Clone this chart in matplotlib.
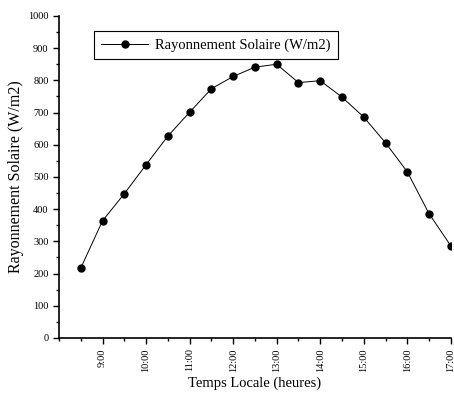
import matplotlib
matplotlib.use("Agg")
import matplotlib.pyplot as plt
from matplotlib.ticker import MultipleLocator

times = ["8:30", "9:00", "9:30", "10:00", "10:30", "11:00", "11:30", "12:00", "12:30",
         "13:00", "13:30", "14:00", "14:30", "15:00", "15:30", "16:00", "16:30", "17:00"]
radiation = [217, 364, 448, 538, 627, 701, 774, 812, 841,
             850, 793, 799, 748, 686, 606, 516, 386, 286]
tick_labels = ["9:00", "10:00", "11:00", "12:00", "13:00", "14:00", "15:00", "16:00", "17:00"]

def to_hours(s):
    h, m = s.split(":")
    return int(h) + int(m) / 60.0

x = [to_hours(t) for t in times]
xt = [to_hours(t) for t in tick_labels]

plt.rcParams['font.family'] = ['Liberation Serif', 'DejaVu Serif']

fig = plt.figure(figsize=(4.54, 3.99), dpi=100)
ax = fig.add_axes([0.130, 0.153, 0.863, 0.807])

ax.plot(x, radiation, color='black', lw=0.7, marker='o', markersize=5,
        label='Rayonnement Solaire (W/m2)')

ax.set_xlim(8, 17)
ax.set_ylim(0, 1000)
ax.set_xticks(xt)
ax.set_xticklabels(tick_labels, rotation=90, fontsize=7.5)
ax.xaxis.set_minor_locator(MultipleLocator(0.5))
ax.yaxis.set_major_locator(MultipleLocator(100))
ax.yaxis.set_minor_locator(MultipleLocator(50))
ax.tick_params(axis='y', labelsize=7.5)
ax.tick_params(which='major', direction='out', length=4, width=1)
ax.tick_params(which='minor', direction='out', length=2.5, width=1)

for s in ['top', 'right']:
    ax.spines[s].set_visible(False)
for s in ['left', 'bottom']:
    ax.spines[s].set_linewidth(1.2)

ax.set_xlabel('Temps Locale (heures)', fontsize=10.5, labelpad=3)
ax.set_ylabel('Rayonnement Solaire (W/m2)', fontsize=11.5, labelpad=3)

leg = ax.legend(loc='upper left', bbox_to_anchor=(0.089, 0.953), fontsize=10.5,
                frameon=True, fancybox=False, edgecolor='black', framealpha=1,
                borderpad=0.5, borderaxespad=0, handlelength=3.2, handletextpad=0.5)
leg.get_frame().set_linewidth(0.8)

fig.savefig('out.png', dpi=100)
